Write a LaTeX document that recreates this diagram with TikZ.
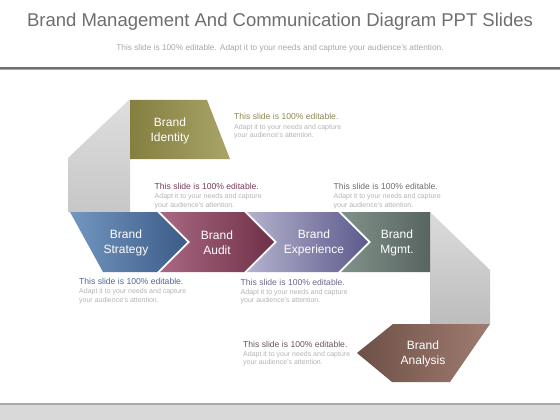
\documentclass[tikz,border=0pt]{standalone}
\usepackage{fontspec}
\setmainfont{Liberation Sans}
\definecolor{titlegray}{HTML}{6E6E6E}
\definecolor{subgray}{HTML}{A8A8A8}
\definecolor{smallgray}{HTML}{B4B4B4}
\definecolor{hIdentity}{HTML}{8C8A50}
\definecolor{hAudit}{HTML}{7A3A58}
\definecolor{hMgmt}{HTML}{6E6E6E}
\definecolor{hStrategy}{HTML}{4A6A98}
\definecolor{hExperience}{HTML}{6A6890}
\definecolor{hAnalysis}{HTML}{6A5858}
\tikzset{
  lbl/.style={text=white, align=center, font=\fontsize{12}{15}\selectfont, inner sep=0pt},
  headtxt/.style={anchor=base west, inner sep=0pt, font=\fontsize{8.6}{9}\selectfont},
  smalltxt/.style={anchor=base west, inner sep=0pt, text=smallgray, font=\fontsize{7}{8}\selectfont},
}
\newcommand{\infoblock}[4]{%
  \node[headtxt, text=#3] (#4h) at (#1,#2) {This slide is 100\% editable.};
  \node[smalltxt] (#4a) at (#1,#2+9) {Adapt it to your needs and capture};
  \node[smalltxt] (#4b) at (#1,#2+17.5) {your audience's attention.};
}
\begin{document}
\begin{tikzpicture}[x=1pt,y=-1pt]
\useasboundingbox (0,0) rectangle (560,420);
\fill[white] (0,0) rectangle (560,420);
% title
\node[text=titlegray, font=\fontsize{18.5}{20}\selectfont, inner sep=0pt] (title) at (280,22) {Brand Management And Communication Diagram PPT Slides};
\node[text=subgray, font=\fontsize{8.3}{9}\selectfont, inner sep=0pt] (subtitle) at (280,48) {This slide is 100\% editable.  Adapt it to your needs and capture your audience's attention.};
\fill[black!56] (0,67) rectangle (560,69.3);
\fill[black!35] (0,69.3) rectangle (560,70.3);
% bottom band
\fill[black!15] (0,403) rectangle (560,420);
\fill[black!34] (0,402.5) rectangle (560,404.5);
% gray ribbons
\shade[top color=black!13, bottom color=black!22] (129,100) -- (68,158) -- (68,212) -- (130,212) -- (130,100) -- cycle;
\shade[top color=black!14, bottom color=black!26] (430,212) -- (490,270) -- (490,324) -- (430,324) -- cycle;
% Identity
\shade[left color={rgb,255:red,133;green,127;blue,64}, right color={rgb,255:red,168;green,165;blue,104}] (130,100) -- (207,100) -- (230,159) -- (130,159) -- cycle;
% chevrons
\shade[left color={rgb,255:red,114;green,150;blue,192}, right color={rgb,255:red,60;green,92;blue,136}] (70,212) -- (157,212) -- (187,242) -- (157,272) -- (103,272) -- cycle;
\shade[left color={rgb,255:red,170;green,104;blue,130}, right color={rgb,255:red,110;green,48;blue,72}] (160,212) -- (244,212) -- (274,242) -- (244,272) -- (160,272) -- (190,242) -- cycle;
\shade[left color={rgb,255:red,180;green,178;blue,205}, right color={rgb,255:red,92;green,90;blue,140}] (247,212) -- (338,212) -- (368,242) -- (338,272) -- (247,272) -- (277,242) -- cycle;
\shade[left color={rgb,255:red,128;green,146;blue,138}, right color={rgb,255:red,88;green,100;blue,96}] (341,212) -- (430,212) -- (430,272) -- (341,272) -- (371,242) -- cycle;
% Analysis
\shade[left color={rgb,255:red,110;green,80;blue,70}, right color={rgb,255:red,160;green,124;blue,112}] (393,324) -- (490,324) -- (450,382) -- (392,382) -- (357,353) -- cycle;
% labels
\node[lbl] (identity) at (170,131) {Brand\\Identity};
\node[lbl] (strategy) at (126,243) {Brand\\Strategy};
\node[lbl] (audit) at (217,243) {Brand\\Audit};
\node[lbl] (experience) at (314,243) {Brand\\Experience};
\node[lbl] (mgmt) at (397,243) {Brand\\Mgmt.};
\node[lbl] (analysis) at (423,354) {Brand\\Analysis};
% info blocks
\infoblock{234}{120}{hIdentity}{bi}
\infoblock{154.5}{189.5}{hAudit}{ba}
\infoblock{333.5}{189.5}{hMgmt}{bm}
\infoblock{79}{284.5}{hStrategy}{bs}
\infoblock{240.5}{285}{hExperience}{be}
\infoblock{243}{347}{hAnalysis}{bn}
\end{tikzpicture}
\end{document}
